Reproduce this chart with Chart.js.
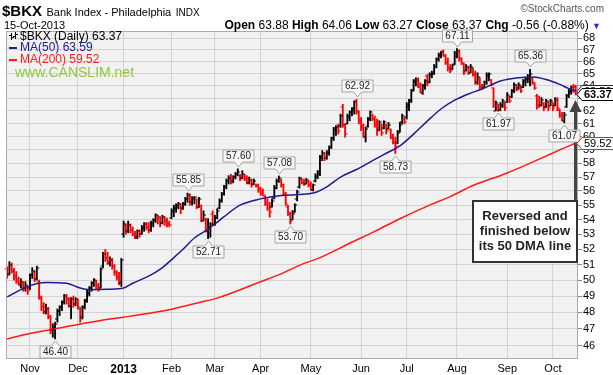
<!DOCTYPE html>
<html>
<head>
<meta charset="utf-8">
<title>$BKX Bank Index - Philadelphia</title>
<script src="https://cdn.jsdelivr.net/npm/chart.js@4.4.1/dist/chart.umd.min.js"></script>
<style>
  html, body { margin: 0; padding: 0; background: #fff; }
  #wrap { position: relative; width: 613px; height: 375px; overflow: hidden; font-family: "Liberation Sans", Arial, sans-serif; }
  #bkxChart { position: absolute; left: 0; top: 0; }
  .hdr { position: absolute; white-space: nowrap; color: #000; line-height: 1; }
</style>
</head>
<body>
<div id="wrap">
  <canvas id="bkxChart" width="613" height="375"></canvas>
  <div class="hdr" style="left:2px;top:3px;"><b style="font-size:15px;">$BKX</b> <span style="font-size:11px;">Bank Index - Philadelphia</span> <span style="font-size:10px;">INDX</span></div>
  <div class="hdr" style="left:4px;top:20px;font-size:11px;">15-Oct-2013</div>
  <div class="hdr" style="right:12px;top:19px;font-size:12px;"><b>Open</b> 63.88 <b>High</b> 64.06 <b>Low</b> 63.27 <b>Close</b> 63.37 <b>Chg</b> -0.56 (-0.88%) <span style="color:#2233cc;font-size:9px;">&#9660;</span></div>
  <div class="hdr" style="right:9px;top:4px;font-size:10px;color:#555;">&copy;StockCharts.com</div>
</div>
<script>
// --- DATA: harian, indeks 0 = 16-Oct-2012, indeks 249 = 15-Oct-2013 ---
const monthLabels = ['Nov', 'Dec', '2013', 'Feb', 'Mar', 'Apr', 'May', 'Jun', 'Jul', 'Aug', 'Sep', 'Oct'];
const monthIdx = [10, 31, 51, 72, 91, 111, 133, 155, 175, 197, 219, 239];
const priceTicks = [46, 47, 48, 49, 50, 51, 52, 53, 54, 55, 56, 57, 58, 59, 60, 61, 62, 63, 64, 65, 66, 67, 68];

const opens = [
  50.7, 50.4, 51.0, 50.6, 50.3, 50.0, 49.7, 49.8, 49.5, 49.5,
  49.5, 50.3, 50.5, 50.1, 49.9, 48.9, 48.4, 48.0, 48.2, 47.7,
  46.9, 47.0, 47.6, 48.1, 48.3, 48.6, 49.0, 48.8, 48.4, 48.8,
  48.5, 48.8, 48.2, 47.7, 48.3, 48.7, 49.2, 49.5, 49.8, 49.9,
  49.6, 49.5, 50.9, 51.7, 51.4, 51.1, 51.3, 50.9, 50.5, 50.2,
  49.8, 53.0, 53.6, 53.2, 53.6, 53.3, 53.0, 52.8, 53.2, 53.0,
  53.4, 53.7, 53.5, 53.3, 53.7, 54.0, 54.1, 54.2, 53.8, 54.2,
  53.9, 53.7, 54.1, 54.6, 54.7, 54.9, 55.1, 54.8, 55.1, 55.4,
  55.7, 55.2, 55.4, 55.4, 54.9, 55.0, 53.9, 54.0, 53.2, 53.0,
  54.4, 53.7, 54.1, 54.8, 55.3, 55.8, 56.3, 56.7, 57.0, 56.7,
  57.0, 57.2, 57.1, 56.9, 57.1, 56.9, 56.6, 56.8, 56.5, 56.5,
  56.4, 56.2, 55.9, 55.6, 55.2, 55.0, 54.9, 55.5, 56.2, 56.7,
  56.8, 56.4, 55.8, 54.9, 54.4, 54.0, 54.5, 55.4, 56.3, 56.8,
  56.6, 56.5, 56.7, 56.4, 56.1, 56.7, 57.0, 57.2, 58.4, 58.7,
  58.4, 58.8, 59.2, 59.9, 60.5, 60.8, 60.8, 62.3, 60.9, 61.0,
  61.5, 61.9, 62.1, 62.8, 61.9, 61.3, 60.8, 60.0, 60.8, 61.4,
  61.7, 61.4, 61.0, 60.5, 60.9, 60.7, 60.9, 60.6, 60.5, 60.0,
  59.5, 59.5, 60.4, 61.1, 61.4, 61.5, 62.3, 62.9, 63.7, 64.3,
  64.5, 64.0, 63.4, 64.0, 64.8, 64.3, 64.9, 65.0, 65.6, 66.2,
  66.5, 66.9, 66.5, 66.0, 65.5, 65.4, 65.8, 66.5, 66.9, 66.2,
  65.8, 65.2, 65.5, 65.1, 65.4, 65.0, 64.3, 64.6, 63.9, 63.9,
  64.3, 64.8, 64.5, 63.8, 62.0, 62.4, 62.1, 62.4, 62.6, 62.7,
  63.1, 63.1, 63.6, 64.0, 63.8, 63.9, 63.9, 64.3, 64.5, 64.6,
  64.6, 64.2, 63.2, 62.5, 62.5, 62.6, 62.3, 62.7, 62.4, 62.6,
  62.4, 62.9, 62.1, 61.7, 61.2, 62.3, 63.2, 63.5, 63.9, 63.88
];
const highs = [
  50.86, 51.19, 51.1, 50.75, 50.55, 50.2, 50.1, 49.9, 49.9, 49.6,
  50.4, 50.8, 50.6, 50.9, 50.0, 49.0, 48.6, 48.5, 48.3, 47.8,
  47.3, 47.4, 48.2, 48.4, 48.7, 49.1, 49.1, 48.9, 48.9, 49.0,
  48.9, 48.8, 48.3, 48.4, 48.8, 49.4, 49.6, 49.9, 50.1, 50.0,
  49.8, 50.8, 51.8, 52.0, 51.8, 51.5, 51.4, 51.0, 50.6, 50.5,
  51.4, 53.9, 53.7, 53.9, 53.7, 53.5, 53.2, 53.3, 53.3, 53.6,
  53.8, 53.8, 53.8, 53.9, 54.06, 54.4, 54.3, 54.2, 54.3, 54.2,
  54.1, 53.9, 54.75, 55.0, 55.1, 55.2, 55.1, 55.2, 55.55, 55.85,
  55.8, 55.6, 55.6, 55.45, 55.55, 55.0, 54.6, 54.1, 54.06, 53.8,
  54.6, 54.3, 54.75, 55.44, 55.9, 56.4, 56.86, 57.1, 57.2, 57.1,
  57.34, 57.6, 57.2, 57.46, 57.2, 57.1, 57.0, 56.86, 56.86, 56.5,
  56.5, 56.27, 56.15, 55.68, 55.44, 55.2, 55.44, 56.4, 56.86, 57.08,
  56.86, 56.5, 55.91, 54.98, 54.52, 54.63, 55.1, 56.05, 57.0, 56.9,
  56.85, 56.9, 56.76, 56.65, 56.5, 57.24, 57.48, 58.6, 58.95, 58.8,
  58.95, 59.3, 59.96, 60.72, 60.85, 60.98, 61.75, 62.53, 60.98, 61.75,
  62.0, 62.27, 62.8, 62.92, 62.0, 61.49, 60.98, 60.72, 61.49, 62.0,
  61.75, 61.6, 61.36, 61.23, 60.98, 61.23, 60.98, 61.1, 60.6, 60.21,
  59.96, 60.47, 61.1, 61.75, 61.49, 62.66, 62.92, 63.72, 64.53, 64.67,
  64.67, 64.26, 64.13, 64.53, 64.94, 65.08, 65.22, 65.77, 66.32, 66.74,
  66.88, 67.0, 66.6, 66.32, 65.77, 65.77, 66.88, 67.11, 67.0, 66.32,
  65.9, 65.77, 65.63, 65.77, 65.49, 65.22, 65.08, 64.67, 64.13, 64.4,
  65.08, 65.08, 64.53, 63.86, 62.79, 62.53, 62.66, 62.92, 62.66, 63.46,
  63.19, 63.72, 64.26, 64.13, 64.26, 64.0, 64.53, 64.67, 64.94, 65.36,
  64.67, 64.26, 63.32, 63.19, 63.06, 62.66, 62.92, 62.79, 62.92, 62.66,
  63.06, 63.06, 62.14, 61.88, 61.88, 63.32, 63.72, 64.0, 64.13, 64.06
];
const lows = [
  50.12, 50.33, 50.45, 50.0, 49.8, 49.7, 49.5, 49.3, 49.3, 49.1,
  49.4, 50.1, 49.9, 50.0, 48.8, 48.1, 47.9, 47.9, 47.6, 46.7,
  46.5, 46.4, 47.4, 47.8, 48.1, 48.5, 48.5, 48.3, 47.6, 48.3,
  48.4, 48.2, 47.4, 47.6, 48.2, 48.6, 49.0, 49.3, 49.6, 49.4,
  49.3, 49.5, 50.8, 51.2, 51.0, 50.9, 50.7, 50.3, 50.0, 49.7,
  49.6, 52.8, 53.0, 53.1, 53.1, 52.9, 52.7, 52.7, 52.8, 53.0,
  53.2, 53.3, 53.1, 53.2, 53.5, 53.8, 53.7, 53.5, 53.7, 53.6,
  53.5, 53.5, 54.06, 54.2, 54.5, 54.75, 54.4, 54.7, 54.98, 55.2,
  55.0, 55.0, 55.1, 54.75, 54.85, 53.85, 53.9, 53.15, 52.71, 52.8,
  53.6, 53.6, 54.06, 54.75, 55.2, 55.7, 56.15, 56.5, 56.5, 56.6,
  56.86, 57.1, 56.74, 56.86, 56.74, 56.5, 56.5, 56.27, 56.45, 56.27,
  55.9, 55.68, 55.68, 54.98, 54.63, 54.17, 54.86, 55.44, 56.15, 56.62,
  56.27, 55.68, 54.98, 54.29, 53.7, 54.0, 54.5, 55.3, 56.2, 56.5,
  56.4, 56.5, 56.29, 56.05, 56.0, 56.65, 56.88, 57.1, 58.2, 58.2,
  58.3, 58.6, 59.1, 59.71, 60.1, 60.21, 60.72, 60.72, 59.96, 60.98,
  61.23, 61.6, 61.75, 61.75, 60.98, 60.47, 59.96, 59.6, 60.72, 61.23,
  61.23, 60.72, 60.1, 60.47, 60.1, 60.6, 60.21, 60.6, 59.83, 59.46,
  58.73, 59.46, 60.34, 60.98, 60.98, 61.36, 62.01, 62.66, 63.59, 64.0,
  63.86, 63.46, 63.32, 63.72, 64.0, 64.26, 64.67, 64.94, 65.49, 66.04,
  66.32, 66.46, 65.77, 65.22, 65.08, 65.35, 65.77, 66.32, 66.04, 65.77,
  64.94, 65.22, 64.94, 65.08, 64.8, 64.13, 64.13, 63.72, 63.72, 63.86,
  64.13, 64.4, 64.0, 62.27, 62.0, 61.97, 62.01, 62.27, 62.01, 62.66,
  62.66, 63.06, 63.46, 63.59, 63.72, 63.46, 63.86, 64.0, 64.26, 64.0,
  64.13, 63.72, 62.14, 62.27, 62.4, 62.01, 62.27, 62.01, 62.4, 62.01,
  62.4, 62.01, 61.49, 61.23, 61.07, 62.27, 63.06, 63.32, 63.46, 63.27
];
const closes = [
  50.3, 51.0, 50.6, 50.2, 49.9, 49.8, 49.9, 49.5, 49.7, 49.3,
  50.3, 50.6, 50.1, 50.8, 48.9, 48.3, 48.1, 48.2, 47.8, 46.9,
  47.1, 47.3, 48.1, 48.3, 48.6, 49.0, 48.8, 48.5, 48.8, 48.5,
  48.8, 48.3, 47.6, 48.3, 48.7, 49.2, 49.5, 49.8, 50.0, 49.6,
  49.5, 50.7, 51.7, 51.4, 51.2, 51.3, 50.9, 50.5, 50.2, 49.9,
  51.3, 53.7, 53.2, 53.6, 53.3, 53.0, 52.8, 53.2, 53.0, 53.4,
  53.7, 53.5, 53.3, 53.8, 54.0, 54.3, 54.2, 53.8, 54.2, 53.9,
  53.7, 53.6, 54.6, 54.8, 55.0, 55.1, 54.7, 55.1, 55.4, 55.7,
  55.2, 55.5, 55.55, 54.9, 55.4, 54.0, 54.3, 53.3, 53.5, 53.7,
  53.65, 54.1, 54.6, 55.3, 55.8, 56.3, 56.7, 56.9, 56.6, 57.0,
  57.2, 57.4, 56.9, 57.2, 56.85, 56.6, 56.8, 56.4, 56.7, 56.35,
  56.1, 55.8, 55.75, 55.1, 54.8, 54.5, 55.3, 56.2, 56.7, 56.95,
  56.4, 55.8, 55.1, 54.4, 53.9, 54.4, 55.0, 55.95, 56.9, 56.6,
  56.5, 56.8, 56.4, 56.1, 56.4, 57.1, 57.4, 58.5, 58.8, 58.4,
  58.8, 59.2, 59.9, 60.6, 60.75, 60.4, 61.6, 61.0, 60.2, 61.6,
  61.9, 62.2, 62.7, 62.0, 61.2, 60.7, 60.2, 60.6, 61.4, 61.9,
  61.4, 60.9, 60.4, 61.1, 60.3, 61.1, 60.4, 60.9, 60.0, 59.6,
  59.3, 60.3, 60.9, 61.6, 61.1, 62.5, 62.8, 63.6, 64.4, 64.5,
  64.0, 63.6, 64.0, 64.4, 64.2, 65.0, 65.1, 65.6, 66.2, 66.6,
  66.8, 66.6, 65.9, 65.5, 65.2, 65.7, 66.7, 66.9, 66.3, 65.9,
  65.1, 65.6, 65.1, 65.6, 64.9, 64.3, 64.7, 63.9, 63.8, 64.3,
  64.9, 65.0, 64.1, 62.4, 62.6, 62.1, 62.5, 62.8, 62.2, 63.3,
  62.8, 63.6, 64.1, 63.7, 64.1, 63.6, 64.4, 64.6, 64.8, 65.0,
  64.3, 63.8, 62.4, 62.35, 62.9, 62.2, 62.8, 62.2, 62.8, 62.2,
  62.9, 62.2, 61.6, 61.3, 61.7, 63.2, 63.6, 63.95, 63.93, 63.37
];

// Moving averages
const ma50Idx = [0, 10, 17, 26, 32, 36, 44, 51, 55, 63, 68, 73, 77, 82, 87, 91, 95, 102, 111, 120, 128, 134, 140, 146, 153, 160, 166, 172, 178, 184, 190, 196, 202, 208, 216, 224, 230, 236, 242, 246, 249];
const ma50Val = [48.95, 49.65, 49.85, 49.8, 49.5, 49.4, 49.42, 49.5, 49.8, 50.33, 50.8, 51.45, 52.0, 52.75, 53.25, 53.7, 54.2, 55.0, 55.44, 55.68, 55.75, 55.85, 56.3, 57.0, 57.55, 58.2, 58.75, 59.3, 60.2, 61.2, 62.15, 62.85, 63.35, 63.75, 64.4, 64.67, 64.73, 64.53, 64.13, 63.78, 63.59];
const ma200Idx = [0, 6, 19, 41, 51, 63, 73, 85, 92, 111, 120, 128, 137, 150, 161, 172, 185, 194, 204, 219, 233, 242, 249];
const ma200Val = [46.4, 46.6, 46.95, 47.5, 47.7, 47.96, 48.22, 48.63, 48.87, 49.9, 50.4, 50.95, 51.45, 52.4, 53.2, 54.06, 55.0, 55.6, 56.39, 57.3, 58.31, 59.0, 59.52];

// Label puncak / lembah
const annIdx = [21, 79, 88, 101, 119, 124, 153, 170, 197, 215, 229, 244];
const annVal = [46.40, 55.85, 52.71, 57.60, 57.08, 53.70, 62.92, 58.73, 67.11, 61.97, 65.36, 61.07];
const annSide = ['low', 'high', 'low', 'high', 'high', 'low', 'high', 'low', 'high', 'low', 'high', 'low'];

const FONT = '"Liberation Sans", Arial, sans-serif';
const MA50_COLOR = '#1c1c8e';
const MA200_COLOR = '#ff1a1a';

function barColor(i) {
  const prev = i === 0 ? opens[0] : closes[i - 1];
  return closes[i] >= prev ? '#000000' : '#ff0000';
}

// --- PLUGIN: latar area plot ---
const plotBackground = {
  id: 'plotBackground',
  beforeDraw(chart) {
    const { ctx, chartArea: a } = chart;
    ctx.save();
    ctx.fillStyle = '#ffffff';
    ctx.fillRect(0, 0, chart.width, chart.height);
    ctx.fillStyle = '#f1f1f1';
    ctx.fillRect(a.left, a.top, a.right - a.left, a.bottom - a.top);
    ctx.restore();
  }
};

// --- PLUGIN: tick open / close ---
const ohlcTicks = {
  id: 'ohlcTicks',
  afterDatasetsDraw(chart) {
    const { ctx, scales: { x, y } } = chart;
    ctx.save();
    for (let i = 0; i < closes.length; i++) {
      const px = x.getPixelForValue(i);
      ctx.fillStyle = barColor(i);
      ctx.fillRect(px - 2.4, Math.round(y.getPixelForValue(opens[i])) - 0.5, 1.9, 1);
      ctx.fillRect(px + 0.5, Math.round(y.getPixelForValue(closes[i])) - 0.5, 1.9, 1);
    }
    ctx.restore();
  }
};

// --- PLUGIN: legenda, label, tag nilai, catatan ---
const overlays = {
  id: 'overlays',
  afterDraw(chart) {
    const { ctx, chartArea: a, scales: { x, y } } = chart;
    ctx.save();

    // bingkai plot
    ctx.strokeStyle = '#a3b1a3';
    ctx.lineWidth = 1;
    ctx.strokeRect(a.left + 0.5, a.top + 0.5, a.right - a.left - 1, a.bottom - a.top - 1);

    // legenda kiri atas
    ctx.font = '12px ' + FONT;
    ctx.textBaseline = 'middle';
    ctx.textAlign = 'left';
    ctx.fillStyle = '#000';
    ctx.fillRect(11, 33, 1, 7); ctx.fillRect(9, 35, 2, 1); ctx.fillRect(12, 37, 2, 1);
    ctx.fillRect(15, 32, 1, 7); ctx.fillRect(13, 36, 2, 1); ctx.fillRect(16, 34, 2, 1);
    ctx.fillText('$BKX (Daily) 63.37', 20, 37);
    ctx.fillStyle = MA50_COLOR;
    ctx.fillRect(9, 47, 8, 2);
    ctx.fillText('MA(50) 63.59', 20, 48);
    ctx.fillStyle = MA200_COLOR;
    ctx.fillRect(9, 59, 8, 2);
    ctx.fillText('MA(200) 59.52', 20, 60);

    ctx.font = '14px ' + FONT;
    ctx.fillStyle = '#92c83e';
    ctx.fillText('www.CANSLIM.net', 15, 73);

    // panah ke bar terakhir
    ctx.fillStyle = '#444';
    ctx.fillRect(574, 110, 3, 91);
    ctx.beginPath();
    ctx.moveTo(569.5, 112); ctx.lineTo(581.5, 112); ctx.lineTo(575.5, 100); ctx.closePath();
    ctx.fill();

    // label puncak / lembah
    ctx.font = '10px ' + FONT;
    ctx.textAlign = 'center';
    ctx.lineWidth = 1;
    annIdx.forEach((idx, k) => {
      const px = Math.round(x.getPixelForValue(idx)) + 0.5;
      const py = Math.round(y.getPixelForValue(annVal[k]));
      const txt = annVal[k].toFixed(2);
      const w = Math.ceil(ctx.measureText(txt).width) + 5;
      const h = 12;
      const l = px - w / 2, r = px + w / 2;
      ctx.beginPath();
      let mid;
      if (annSide[k] === 'high') {
        const tip = py - 2, bot = py - 7, top = bot - h;
        ctx.moveTo(l, top); ctx.lineTo(r, top); ctx.lineTo(r, bot);
        ctx.lineTo(px + 4, bot); ctx.lineTo(px, tip); ctx.lineTo(px - 4, bot);
        ctx.lineTo(l, bot); ctx.closePath();
        mid = top + h / 2;
      } else {
        const tip = py + 2, top = py + 7, bot = top + h;
        ctx.moveTo(l, top); ctx.lineTo(px - 4, top); ctx.lineTo(px, tip);
        ctx.lineTo(px + 4, top); ctx.lineTo(r, top); ctx.lineTo(r, bot);
        ctx.lineTo(l, bot); ctx.closePath();
        mid = top + h / 2;
      }
      ctx.fillStyle = '#f7f7f7';
      ctx.fill();
      ctx.strokeStyle = '#9ea89e';
      ctx.stroke();
      ctx.fillStyle = '#222';
      ctx.fillText(txt, px, mid + 0.5);
    });

    // tag nilai di sumbu kanan
    function tag(value, text, color, bold) {
      const py = Math.round(y.getPixelForValue(value)) + 0.5;
      const x0 = a.right - 1;
      ctx.font = (bold ? 'bold ' : '') + '11px ' + FONT;
      const w = Math.ceil(ctx.measureText(text).width) + 4;
      ctx.beginPath();
      ctx.moveTo(x0, py);
      ctx.lineTo(x0 + 5, py - 6);
      ctx.lineTo(x0 + 5 + w, py - 6);
      ctx.lineTo(x0 + 5 + w, py + 6);
      ctx.lineTo(x0 + 5, py + 6);
      ctx.closePath();
      ctx.fillStyle = '#fff';
      ctx.fill();
      ctx.strokeStyle = color;
      ctx.lineWidth = 1;
      ctx.stroke();
      ctx.fillStyle = '#000';
      ctx.textAlign = 'left';
      ctx.fillText(text, x0 + 7, py + 0.5);
    }
    tag(63.59, '63.59', MA50_COLOR, false);
    tag(63.37, '63.37', '#000', true);
    tag(59.52, '59.52', MA200_COLOR, false);

    // kotak catatan
    ctx.fillStyle = '#fff';
    ctx.fillRect(473, 201, 104, 61);
    ctx.strokeStyle = '#333';
    ctx.lineWidth = 2;
    ctx.strokeRect(473, 201, 104, 61);
    ctx.fillStyle = '#222';
    ctx.font = 'bold 13px ' + FONT;
    ctx.textAlign = 'center';
    ctx.fillText('Reversed and', 525, 216);
    ctx.fillText('finished below', 525, 231);
    ctx.fillText('its 50 DMA line', 525, 246);

    ctx.restore();
  }
};

const chart = new Chart(document.getElementById('bkxChart'), {
  type: 'bar',
  data: {
    datasets: [
      {
        type: 'line',
        label: 'MA(50)',
        data: ma50Idx.map((v, k) => ({ x: v, y: ma50Val[k] })),
        borderColor: MA50_COLOR,
        borderWidth: 1.5,
        pointRadius: 0,
        cubicInterpolationMode: 'monotone',
        order: 1
      },
      {
        type: 'line',
        label: 'MA(200)',
        data: ma200Idx.map((v, k) => ({ x: v, y: ma200Val[k] })),
        borderColor: MA200_COLOR,
        borderWidth: 1.5,
        pointRadius: 0,
        cubicInterpolationMode: 'monotone',
        order: 1
      },
      {
        type: 'bar',
        label: '$BKX',
        data: highs.map((h, i) => ({ x: i, y: [lows[i], h] })),
        backgroundColor: (c) => barColor(c.dataIndex),
        barThickness: 1.2,
        grouped: false,
        order: 2
      }
    ]
  },
  options: {
    responsive: false,
    animation: false,
    devicePixelRatio: 1,
    layout: { padding: { left: 6, top: 31, right: 0, bottom: 0 } },
    plugins: { legend: { display: false }, tooltip: { enabled: false } },
    scales: {
      x: {
        type: 'linear',
        min: -0.5,
        max: 250,
        offset: false,
        grid: { color: '#d3d3d3', drawTicks: false, offset: false },
        border: { display: false },
        ticks: {
          autoSkip: false,
          maxRotation: 0,
          padding: 3,
          color: '#000',
          font: (c) => ({ family: FONT, size: c.tick && c.tick.value === 51 ? 12 : 11, weight: c.tick && c.tick.value === 51 ? 'bold' : 'normal' }),
          callback: (v) => monthLabels[monthIdx.indexOf(v)] || ''
        },
        afterBuildTicks: (s) => { s.ticks = monthIdx.map(v => ({ value: v })); },
        afterFit: (s) => { s.height = 16; }
      },
      y: {
        type: 'logarithmic',
        position: 'right',
        min: 45.23,
        max: 68.63,
        grid: { color: '#d3d3d3', tickLength: 4, tickColor: '#888' },
        border: { display: false },
        ticks: {
          autoSkip: false,
          padding: 1,
          color: '#000',
          font: { family: FONT, size: 11 },
          callback: (v) => String(v)
        },
        afterBuildTicks: (s) => { s.ticks = priceTicks.map(v => ({ value: v })); },
        afterFit: (s) => { s.width = 35; }
      }
    }
  },
  plugins: [plotBackground, ohlcTicks, overlays]
});
</script>
</body>
</html>
